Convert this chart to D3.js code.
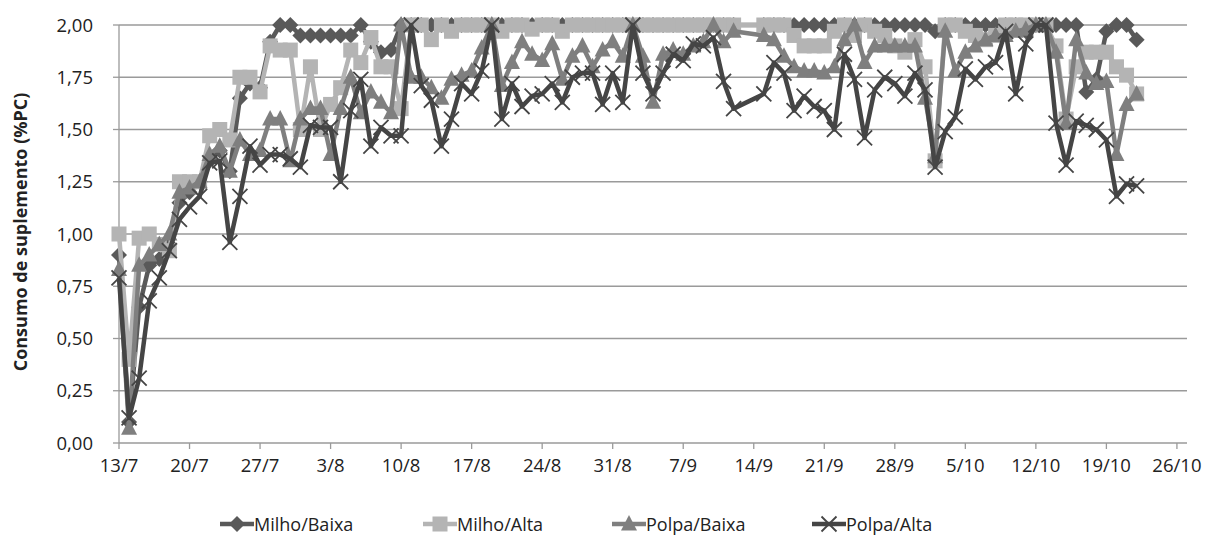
<!DOCTYPE html>
<html><head><meta charset="utf-8">
<script src="https://cdn.jsdelivr.net/npm/d3@7"></script>
<style>body{margin:0;background:#fff}</style>
</head><body><svg></svg>
<script>
// dias desde 13/7
const days = [0,1,2,3,4,5,6,7,8,9,10,11,12,13,14,15,16,17,18,19,20,21,22,23,24,25,26,27,28,29,
  30,31,32,33,34,35,36,37,38,39,40,41,42,43,44,45,46,47,48,49,50,51,52,53,54,55,56,57,58,59,60,61,
  64,65,66,67,68,69,70,71,72,73,74,75,76,77,78,79,80,81,82,83,84,85,86,87,88,89,90,91,92,93,
  94,95,96,97,98,99,100,101];
const tickLabels = ["13/7","20/7","27/7","3/8","10/8","17/8","24/8","31/8","7/9","14/9","21/9","28/9","5/10","12/10","19/10","26/10"];
const yTicks = [0,0.25,0.5,0.75,1,1.25,1.5,1.75,2];

const milhoBaixa = [.90,.10,.65,.85,.88,.95,1.15,1.20,1.25,1.35,
  1.40,1.30,1.65,1.72,1.70,1.92,2.0,2.0,1.95,1.95,
  1.95,1.95,1.95,1.95,2.0,1.92,1.87,1.88,2.0,2.0,
  2.0,2.0,2.0,2.0,2.0,2.0,2.0,2.0,2.0,2.0,
  2.0,2.0,2.0,2.0,2.0,2.0,2.0,2.0,2.0,2.0,
  2.0,2.0,2.0,2.0,2.0,2.0,2.0,2.0,2.0,2.0,2.0,2.0,
  2.0,2.0,2.0,2.0,2.0,2.0,2.0,2.0,2.0,2.0,
  2.0,2.0,2.0,2.0,2.0,2.0,2.0,1.97,2.0,2.0,
  2.0,2.0,2.0,2.0,2.0,2.0,1.97,2.0,2.0,2.0,
  2.0,2.0,1.68,1.74,1.97,2.0,2.0,1.93];
const milhoAlta = [1.00,.40,.98,1.0,.95,.92,1.25,1.25,1.25,1.47,
  1.50,1.45,1.75,1.75,1.68,1.90,1.88,1.88,1.50,1.80,
  1.50,1.62,1.70,1.88,1.82,1.94,1.80,1.80,1.60,2.0,
  2.0,1.93,2.0,1.97,2.0,2.0,2.0,2.0,1.97,2.0,
  2.0,1.98,2.0,2.0,1.97,2.0,2.0,2.0,2.0,2.0,
  2.0,2.0,2.0,2.0,2.0,2.0,2.0,2.0,2.0,2.0,2.0,2.0,
  2.0,2.0,2.0,1.95,1.90,1.90,1.90,1.97,2.0,1.95,
  2.0,1.97,1.95,1.90,1.87,1.93,1.80,1.35,2.0,2.0,
  1.97,1.95,1.93,1.95,2.0,2.0,2.0,2.0,2.0,1.90,
  1.55,1.80,1.87,1.87,1.87,1.80,1.76,1.67];
const polpaBaixa = [.83,.07,.85,.90,.95,1.00,1.20,1.22,1.25,1.38,
  1.42,1.30,1.45,1.38,1.40,1.55,1.55,1.35,1.55,1.60,
  1.60,1.38,1.60,1.75,1.58,1.68,1.63,1.58,2.0,1.75,
  1.75,1.70,1.65,1.74,1.76,1.78,1.89,2.0,1.71,1.82,
  1.92,1.86,1.83,1.91,1.74,1.85,1.90,1.80,1.88,1.92,
  1.85,2.0,1.85,1.63,1.86,1.88,1.86,1.90,1.92,2.0,1.92,1.97,
  1.95,1.93,1.85,1.80,1.78,1.78,1.77,1.80,1.93,2.0,
  1.82,1.90,1.90,1.90,1.90,1.90,1.65,1.37,1.97,1.78,
  1.87,1.90,1.93,1.95,1.95,1.97,1.98,2.0,2.0,1.87,
  1.53,1.93,1.77,1.72,1.73,1.38,1.62,1.67];
const polpaAlta = [.79,.12,.31,.68,.79,.92,1.07,1.13,1.18,1.34,
  1.35,.96,1.18,1.42,1.33,1.38,1.38,1.36,1.32,1.52,
  1.51,1.51,1.25,1.59,1.74,1.42,1.51,1.47,1.47,2.0,
  1.71,1.64,1.42,1.55,1.72,1.67,1.78,2.0,1.55,1.72,
  1.61,1.66,1.67,1.72,1.63,1.75,1.77,1.77,1.62,1.77,
  1.63,2.0,1.77,1.67,1.77,1.86,1.83,1.91,1.90,1.94,1.73,1.60,
  1.67,1.82,1.77,1.59,1.66,1.61,1.59,1.50,1.86,1.74,
  1.46,1.69,1.75,1.72,1.66,1.77,1.69,1.32,1.49,1.56,
  1.79,1.74,1.80,1.82,1.97,1.67,1.91,2.0,2.0,1.53,
  1.33,1.54,1.52,1.50,1.45,1.18,1.24,1.23];

const series = [
  {name:"Milho/Baixa", values:milhoBaixa, color:"#595959", marker:"diamond"},
  {name:"Milho/Alta", values:milhoAlta, color:"#b4b4b4", marker:"square"},
  {name:"Polpa/Baixa", values:polpaBaixa, color:"#7f7f7f", marker:"triangle"},
  {name:"Polpa/Alta", values:polpaAlta, color:"#454545", marker:"cross"}
];

const width = 1218, height = 543;
const svg = d3.select("svg").attr("width", width).attr("height", height)
  .style("font-family", "'Open Sans', 'Liberation Sans', sans-serif");

const x = d3.scaleLinear().domain([0, 106]).range([119, 1187]);
const y = d3.scaleLinear().domain([0, 2]).range([443, 25]);

// grade
svg.append("g").selectAll("line").data(yTicks).enter().append("line")
  .attr("x1", x(0)).attr("x2", x(106))
  .attr("y1", d => y(d)).attr("y2", d => y(d))
  .attr("stroke", "#9a9a9a").attr("stroke-width", 1.3);

// eixo y
svg.append("line").attr("x1", x(0)).attr("x2", x(0)).attr("y1", y(0)).attr("y2", y(2))
  .attr("stroke", "#9a9a9a").attr("stroke-width", 1.3);
svg.append("g").selectAll("line").data(yTicks).enter().append("line")
  .attr("x1", x(0) - 6).attr("x2", x(0)).attr("y1", d => y(d)).attr("y2", d => y(d))
  .attr("stroke", "#9a9a9a").attr("stroke-width", 1.3);
svg.append("g").selectAll("text").data(yTicks).enter().append("text")
  .attr("x", 93).attr("y", d => y(d) + 6.5).attr("text-anchor", "end")
  .attr("font-size", 18.5).attr("fill", "#222")
  .text(d => d3.format(".2f")(d).replace(".", ","));

// eixo x
svg.append("g").selectAll("line").data(tickLabels).enter().append("line")
  .attr("x1", (d, i) => x(i * 7)).attr("x2", (d, i) => x(i * 7))
  .attr("y1", y(0)).attr("y2", y(0) + 6)
  .attr("stroke", "#9a9a9a").attr("stroke-width", 1.3);
svg.append("g").selectAll("text").data(tickLabels).enter().append("text")
  .attr("x", (d, i) => x(i * 7)).attr("y", 472).attr("text-anchor", "middle")
  .attr("font-size", 18.5).attr("fill", "#222").text(d => d);

svg.append("text").attr("transform", "translate(27,232) rotate(-90)")
  .attr("text-anchor", "middle").attr("font-size", 18).attr("font-weight", "bold")
  .attr("fill", "#222").text("Consumo de suplemento (%PC)");

function drawMarker(g, type, color) {
  if (type === "diamond") g.append("path").attr("d", "M0,-8L8,0L0,8L-8,0Z").attr("fill", color);
  else if (type === "square") g.append("rect").attr("x", -7.5).attr("y", -7.5).attr("width", 15).attr("height", 15).attr("fill", color);
  else if (type === "triangle") g.append("path").attr("d", "M0,-9L8,6.5L-8,6.5Z").attr("fill", color);
  else g.append("path").attr("d", "M-7.5,-7.5L7.5,7.5M-7.5,7.5L7.5,-7.5").attr("stroke", color).attr("stroke-width", 1.8);
}

const line = d3.line().x(d => x(d[0])).y(d => y(d[1]));

series.forEach(s => {
  const pts = days.map((d, i) => [d, s.values[i]]);
  const g = svg.append("g");
  g.append("path").datum(pts).attr("d", line).attr("fill", "none")
    .attr("stroke", s.color).attr("stroke-width", 4.5).attr("stroke-linejoin", "round");
  g.selectAll("g").data(pts).enter().append("g")
    .attr("transform", d => `translate(${x(d[0])},${y(d[1])})`)
    .each(function () { drawMarker(d3.select(this), s.marker, s.color); });
});

// legenda
const legX = [220, 423, 612, 812];
series.forEach((s, i) => {
  const g = svg.append("g").attr("transform", `translate(${legX[i]},524)`);
  g.append("line").attr("x1", 0).attr("x2", 34).attr("stroke", s.color).attr("stroke-width", 4.5);
  const m = g.append("g").attr("transform", "translate(17,0)");
  drawMarker(m, s.marker, s.color);
  g.append("text").attr("x", 34).attr("y", 6.5).attr("font-size", 18).attr("fill", "#222").text(s.name);
});
</script></body></html>
